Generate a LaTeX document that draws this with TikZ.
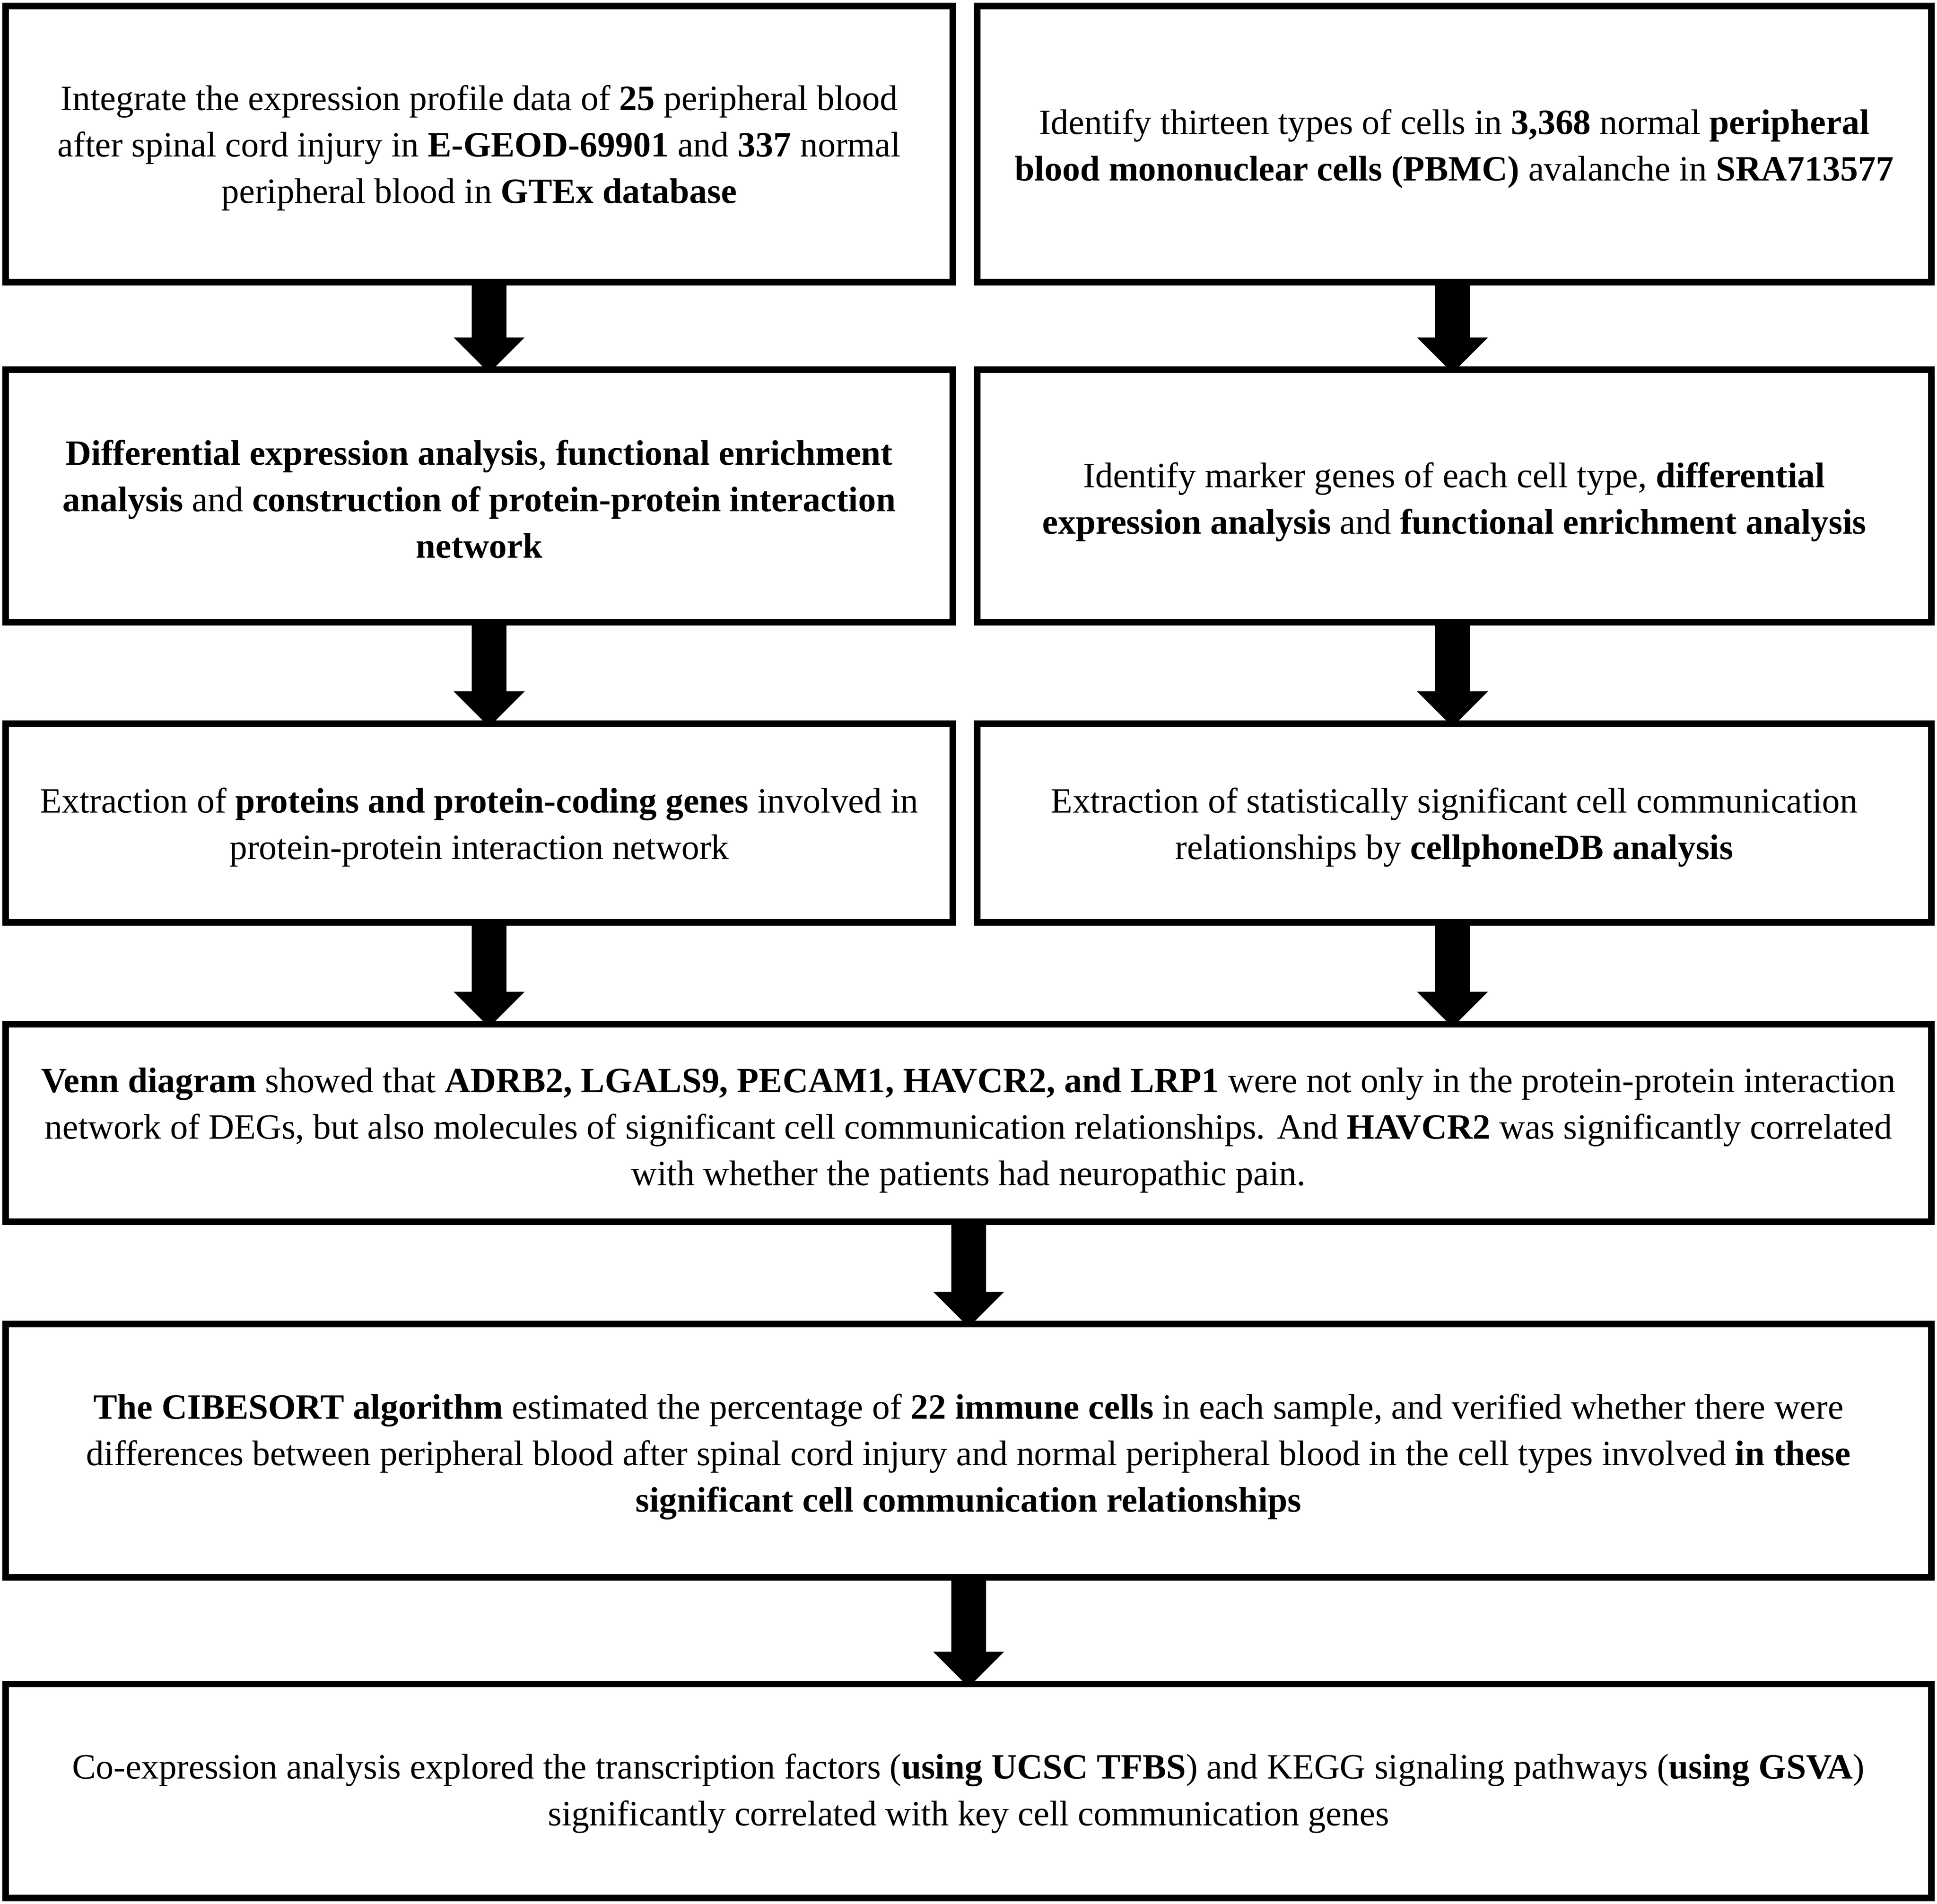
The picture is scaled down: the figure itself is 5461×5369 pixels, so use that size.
\documentclass[tikz,border=0pt]{standalone}
\usepackage{fontspec}
\setmainfont{Liberation Serif}
\usetikzlibrary{calc}
\begin{document}
\begin{tikzpicture}[x=0.01cm,y=-0.01cm,
  box/.style={draw=black, line width=0.185cm, rectangle, inner sep=0pt, outer sep=0pt, fill=white},
  txt/.style={inner sep=0pt, align=center, font=\fontsize{28.5}{37.3}\selectfont},
  blockarrow/.style={fill=black, to path={let \p1=(\tikztostart), \p2=(\tikztotarget) in
    (\x1-0.49cm,\y1) -- (\x1+0.49cm,\y1) -- (\x1+0.49cm,\y2+1cm) -- (\x1+1cm,\y2+1cm)
    -- (\x2,\y2) -- (\x1-1cm,\y2+1cm) -- (\x1-0.49cm,\y2+1cm) -- cycle}}
]
\useasboundingbox (0,0) rectangle (5461,5369);
\fill[white] (0,0) rectangle (5461,5369);

\node[box, minimum width=26.68cm, minimum height=7.78cm] (b1) at (1351,406) {};
\node[box, minimum width=26.88cm, minimum height=7.78cm] (b2) at (4100,406) {};
\node[box, minimum width=26.68cm, minimum height=7.11cm] (b3) at (1351,1398.5) {};
\node[box, minimum width=26.88cm, minimum height=7.11cm] (b4) at (4100,1398.5) {};
\node[box, minimum width=26.68cm, minimum height=5.60cm] (b5) at (1351,2321) {};
\node[box, minimum width=26.88cm, minimum height=5.60cm] (b6) at (4100,2321) {};
\node[box, minimum width=54.27cm, minimum height=5.57cm] (b7) at (2730.5,3166.5) {};
\node[box, minimum width=54.27cm, minimum height=7.14cm] (b8) at (2730.5,4091) {};
\node[box, minimum width=54.27cm, minimum height=6.03cm] (b9) at (2730.5,5050.5) {};

\node[txt] (t1) at ($(b1.center)+(0,11)$)
 {Integrate the expression profile data of \textbf{25} peripheral blood\\
  after spinal cord injury in \textbf{E-GEOD-69901} and \textbf{337} normal\\
  peripheral blood in \textbf{GTEx database}};
\node[txt] (t2) at ($(b2.center)+(0,13)$)
 {Identify thirteen types of cells in \textbf{3,368} normal \textbf{peripheral}\\
  \textbf{blood mononuclear cells (PBMC)} avalanche in \textbf{SRA713577}};
\node[txt] (t3) at ($(b3.center)+(0,9)$)
 {\textbf{Differential expression analysis}, \textbf{functional enrichment}\\
  \textbf{analysis} and \textbf{construction of protein-protein interaction}\\
  \textbf{network}};
\node[txt] (t4) at ($(b4.center)+(0,17)$)
 {Identify marker genes of each cell type, \textbf{differential}\\
  \textbf{expression analysis} and \textbf{functional enrichment analysis}};
\node[txt] (t5) at ($(b5.center)+(0,12)$)
 {Extraction of \textbf{proteins and protein-coding genes} involved in\\
  protein-protein interaction network};
\node[txt] (t6) at ($(b6.center)+(0,12)$)
 {Extraction of statistically significant cell communication\\
  relationships by \textbf{cellphoneDB analysis}};
\node[txt] (t7) at ($(b7.center)+(0,21)$)
 {\textbf{Venn diagram} showed that \textbf{ADRB2, LGALS9, PECAM1, HAVCR2, and LRP1} were not only in the protein-protein interaction\\
  network of DEGs, but also molecules of significant cell communication relationships. And \textbf{HAVCR2} was significantly correlated\\
  with whether the patients had neuropathic pain.};
\node[txt] (t8) at ($(b8.center)+(0,17)$)
 {\textbf{The CIBESORT algorithm} estimated the percentage of \textbf{22 immune cells} in each sample, and verified whether there were\\
  differences between peripheral blood after spinal cord injury and normal peripheral blood in the cell types involved \textbf{in these}\\
  \textbf{significant cell communication relationships}};
\node[txt] (t9) at ($(b9.center)+(0,7)$)
 {Co-expression analysis explored the transcription factors (\textbf{using UCSC TFBS}) and KEGG signaling pathways (\textbf{using GSVA})\\
  significantly correlated with key cell communication genes};

\coordinate (xl) at (1379,0);
\coordinate (xr) at (4095,0);
\coordinate (xm) at (2731,0);

\fill[blockarrow] (b1.south -| xl) to ($(b3.north -| xl)+(0,9)$);
\fill[blockarrow] (b3.south -| xl) to ($(b5.north -| xl)+(0,9)$);
\fill[blockarrow] (b5.south -| xl) to ($(b7.north -| xl)+(0,9)$);
\fill[blockarrow] (b2.south -| xr) to ($(b4.north -| xr)+(0,9)$);
\fill[blockarrow] (b4.south -| xr) to ($(b6.north -| xr)+(0,9)$);
\fill[blockarrow] (b6.south -| xr) to ($(b7.north -| xr)+(0,9)$);
\fill[blockarrow] (b7.south -| xm) to ($(b8.north -| xm)+(0,9)$);
\fill[blockarrow] (b8.south -| xm) to ($(b9.north -| xm)+(0,9)$);
\end{tikzpicture}
\end{document}
